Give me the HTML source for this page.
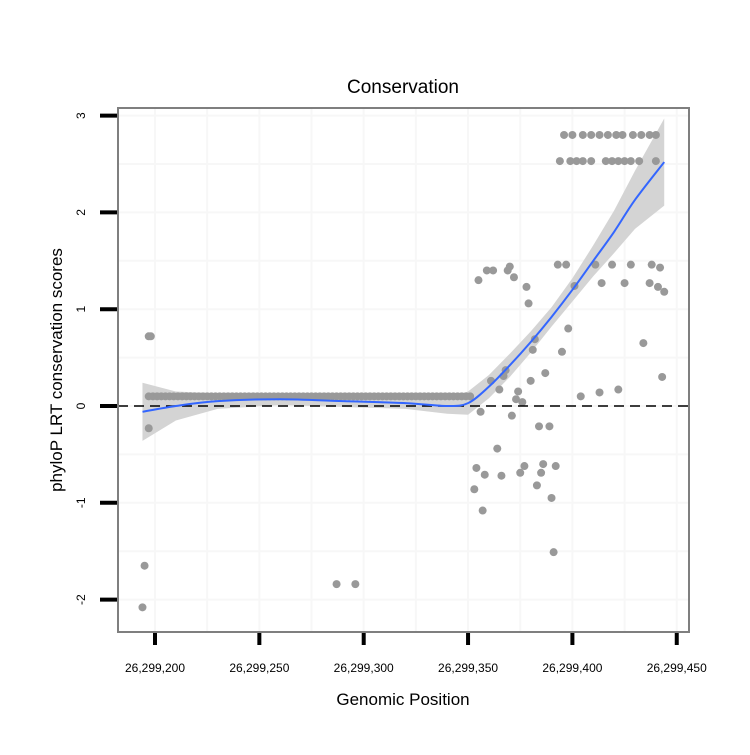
<!DOCTYPE html>
<html><head><meta charset="utf-8"><style>
body{margin:0;background:#fff}
svg text{font-family:"Liberation Sans",sans-serif}
</style></head><body>
<svg id="c" width="750" height="750" xmlns="http://www.w3.org/2000/svg"></svg>
<script>
const xTicks=[200,250,300,350,400,450];
const xTickLabels=["26,299,200","26,299,250","26,299,300","26,299,350","26,299,400","26,299,450"];
const yTicks=[-2,-1,0,1,2,3];
const yTickLabels=["-2","-1","0","1","2","3"];
const pointPos=[396,400,405,409,413,417,421,424,429,433,437,440,
394,399,402,405,409,416,419,422,425,428,432,440,
393,397,411,419,428,438,442,359,362,369,370,372,355,378,379,401,414,425,437,441,444,398,434,382,
381,395,368,367,387,361,380,365,374,373,376,404,413,422,443,356,371,384,389,364,354,358,366,375,377,386,392,385,383,353,390,357,391,
197,198,197,195,194,287,296];
const pointScore=[2.8,2.8,2.8,2.8,2.8,2.8,2.8,2.8,2.8,2.8,2.8,2.8,
2.53,2.53,2.53,2.53,2.53,2.53,2.53,2.53,2.53,2.53,2.53,2.53,
1.46,1.46,1.46,1.46,1.46,1.46,1.43,1.4,1.4,1.4,1.44,1.33,1.3,1.23,1.06,1.24,1.27,1.27,1.27,1.23,1.18,0.8,0.65,0.69,
0.58,0.56,0.37,0.31,0.34,0.26,0.26,0.17,0.15,0.07,0.04,0.1,0.14,0.17,0.3,-0.06,-0.1,-0.21,-0.21,-0.44,-0.64,-0.71,-0.72,-0.69,-0.62,-0.6,-0.62,-0.69,-0.82,-0.86,-0.95,-1.08,-1.51,
0.72,0.72,-0.23,-1.65,-2.08,-1.84,-1.84];
const stripPos=[197,199,201,203,205,207,209,211,213,215,217,219,221,223,225,227,229,231,233,235,237,239,241,243,245,247,249,251,253,255,257,259,261,263,265,267,269,271,273,275,277,279,281,283,285,287,289,291,293,295,297,299,301,303,305,307,309,311,313,315,317,319,321,323,325,327,329,331,333,335,337,339,341,343,345,347,349,351];
const stripScore=[0.1,0.1,0.1,0.1,0.1,0.1,0.1,0.1,0.1,0.1,0.1,0.1,0.1,0.1,0.1,0.1,0.1,0.1,0.1,0.1,0.1,0.1,0.1,0.1,0.1,0.1,0.1,0.1,0.1,0.1,0.1,0.1,0.1,0.1,0.1,0.1,0.1,0.1,0.1,0.1,0.1,0.1,0.1,0.1,0.1,0.1,0.1,0.1,0.1,0.1,0.1,0.1,0.1,0.1,0.1,0.1,0.1,0.1,0.1,0.1,0.1,0.1,0.1,0.1,0.1,0.1,0.1,0.1,0.1,0.1,0.1,0.1,0.1,0.1,0.1,0.1,0.1,0.1];
const fitPos=[194,210,230,260,290,320,340,350,360,370,380,390,400,410,420,430,444];
const fitVal=[-0.06,0.0,0.05,0.07,0.05,0.03,0.0,0.03,0.2,0.42,0.66,0.92,1.2,1.5,1.8,2.13,2.52];
const fitCI=[0.3,0.15,0.08,0.06,0.06,0.06,0.08,0.12,0.12,0.12,0.11,0.1,0.12,0.16,0.22,0.3,0.45];

const NS="http://www.w3.org/2000/svg",svg=document.getElementById('c');
const L=118,R=689,T=108,B=632;
const sx=v=>155+(v-200)*2.087;
const sy=v=>406-v*96.8;
function mk(t,a,p){const e=document.createElementNS(NS,t);for(const k in a)e.setAttribute(k,a[k]);(p||svg).appendChild(e);return e;}
let e;
e=mk('rect',{x:L,y:T,width:R-L,height:B-T,fill:'#fff'});


const grid=mk('g',{stroke:'#f7f7f7','stroke-width':2});


for(let v=175;v<=450;v+=25){const x=sx(v);if(x>L&&x<R)mk('line',{x1:x,x2:x,y1:T,y2:B},grid);}
for(let v=-2.5;v<=3;v+=0.5){const y=sy(v);if(y>T&&y<B)mk('line',{x1:L,x2:R,y1:y,y2:y},grid);}
let up=fitPos.map((p,i)=>sx(p)+','+sy(fitVal[i]+fitCI[i]));
let dn=fitPos.map((p,i)=>sx(p)+','+sy(fitVal[i]-fitCI[i])).reverse();
e=mk('polygon',{points:up.concat(dn).join(' '),fill:'#d4d4d4'});


const pts=mk('g',{fill:'#999'});


stripPos.forEach((p,i)=>{const c=mk('circle',{cx:sx(p),cy:sy(stripScore[i]),r:4},pts);

});
pointPos.forEach((p,i)=>{const c=mk('circle',{cx:sx(p),cy:sy(pointScore[i]),r:4},pts);

});
e=mk('line',{x1:L,x2:R,y1:sy(0),y2:sy(0),stroke:'#000','stroke-width':1.6,'stroke-dasharray':'10,6'});


const P=fitPos.map((p,i)=>[sx(p),sy(fitVal[i])]);
let d='M'+P[0];
for(let i=0;i<P.length-1;i++){const p0=P[Math.max(0,i-1)],p1=P[i],p2=P[i+1],p3=P[Math.min(P.length-1,i+2)];
d+=` C${p1[0]+(p2[0]-p0[0])/6},${p1[1]+(p2[1]-p0[1])/6} ${p2[0]-(p3[0]-p1[0])/6},${p2[1]-(p3[1]-p1[1])/6} ${p2[0]},${p2[1]}`;}
e=mk('path',{d:d,fill:'none',stroke:'#3366ff','stroke-width':2});


e=mk('rect',{x:L,y:T,width:R-L,height:B-T,fill:'none',stroke:'#7f7f7f','stroke-width':2});


xTicks.forEach((v,i)=>{const x=sx(v);
const t=mk('line',{x1:x,x2:x,y1:B+1,y2:B+13,stroke:'#000','stroke-width':4});


const l=mk('text',{x:x,y:B+40,'text-anchor':'middle','font-size':12});l.textContent=xTickLabels[i];

});
yTicks.forEach((v,i)=>{const y=sy(v);
const t=mk('line',{x1:L-1,x2:L-18,y1:y,y2:y,stroke:'#000','stroke-width':4});


const l=mk('text',{x:82,y:y,'text-anchor':'middle','font-size':12,transform:`rotate(-90 82 ${y})`,'dominant-baseline':'middle'});l.textContent=yTickLabels[i];

});
e=mk('text',{x:403,y:93,'text-anchor':'middle','font-size':19});e.textContent='Conservation';


e=mk('text',{x:403,y:705,'text-anchor':'middle','font-size':17});e.textContent='Genomic Position';


e=mk('text',{x:0,y:0,'text-anchor':'middle','font-size':17,transform:'translate(62 370) rotate(-90)'});e.textContent='phyloP LRT conservation scores';


</script>
</body></html>
